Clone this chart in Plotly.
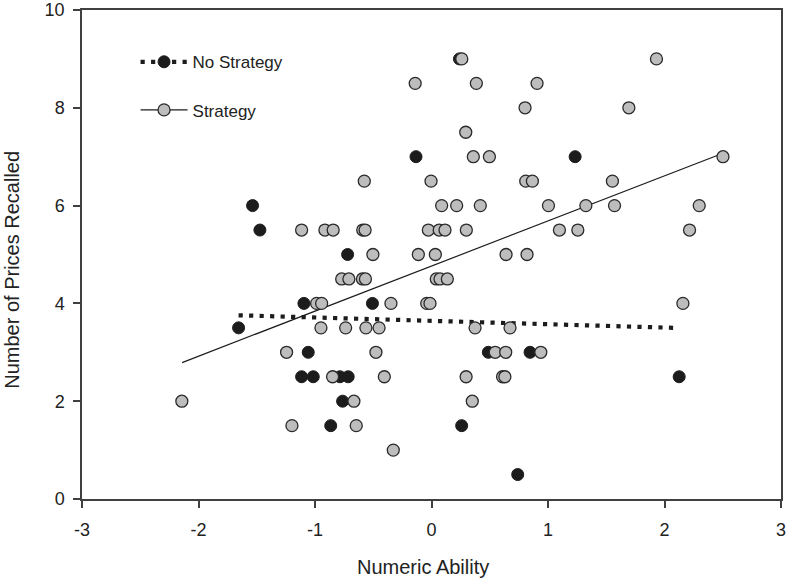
import plotly.graph_objects as go

# No Strategy group (black)
ns_x = [-1.536, -1.473, -1.656, -1.095, -1.058, -1.115, -1.015, -0.786, -0.715, -0.763,
        -0.865, -0.720, -0.507, -0.133, 0.259, 0.740, 0.488, 0.846, 1.233, 2.126, 0.240]
ns_y = [6, 5.5, 3.5, 4, 3, 2.5, 2.5, 2.5, 2.5, 2,
        1.5, 5, 4, 7, 1.5, 0.5, 3, 3, 7, 2.5, 9]

# Strategy group (grey)
st_x = [0.260, 1.931,
        -0.140, 0.385, 0.906,
        0.803, 1.694,
        0.294,
        0.359, 0.497, 2.502,
        -0.577, -0.004, 0.809, 0.866, 1.553,
        0.087, 0.216, 0.419, 1.004, 1.325, 1.571, 2.298,
        -1.115, -0.915, -0.844, -0.590, -0.570, -0.027, 0.066, 0.116, 0.299, 1.098, 1.256, 2.215,
        -0.503, -0.113, 0.033, 0.640, 0.820,
        -0.771, -0.709, -0.593, -0.567, 0.041, 0.073, 0.136,
        -0.986, -0.943, -0.348, -0.041, -0.013, 2.158,
        -0.949, -0.737, -0.563, -0.450, 0.374, 0.674,
        -1.244, -0.477, 0.547, 0.637, 0.938,
        -0.849, -0.405, 0.297, 0.610, 0.630,
        -2.143, -0.666, 0.350,
        -1.198, -0.646,
        -0.328]
st_y = [9, 9,
        8.5, 8.5, 8.5,
        8, 8,
        7.5,
        7, 7, 7,
        6.5, 6.5, 6.5, 6.5, 6.5,
        6, 6, 6, 6, 6, 6, 6,
        5.5, 5.5, 5.5, 5.5, 5.5, 5.5, 5.5, 5.5, 5.5, 5.5, 5.5, 5.5,
        5, 5, 5, 5, 5,
        4.5, 4.5, 4.5, 4.5, 4.5, 4.5, 4.5,
        4, 4, 4, 4, 4, 4,
        3.5, 3.5, 3.5, 3.5, 3.5, 3.5,
        3, 3, 3, 3, 3,
        2.5, 2.5, 2.5, 2.5, 2.5,
        2, 2, 2,
        1.5, 1.5,
        1]

# Fitted regression lines
ns_fit_x = [-1.656, 2.126]
ns_fit_y = [3.757, 3.497]
st_fit_x = [-2.141, 2.502]
st_fit_y = [2.79, 7.07]

x_ticks = [-3, -2, -1, 0, 1, 2, 3]
y_ticks = [0, 2, 4, 6, 8, 10]

FONT = "Liberation Sans, Arial, sans-serif"
BLACK = "#1c1c1c"
GREY = "#bdbdbd"
EDGE = "#2a2a2a"
DOT = dict(color=BLACK, width=4.2, dash="4.2px,6.3px")

fig = go.Figure()

# lines (drawn first, under points)
fig.add_trace(go.Scatter(x=ns_fit_x, y=ns_fit_y, mode="lines", line=DOT,
                         showlegend=False, hoverinfo="skip"))
fig.add_trace(go.Scatter(x=st_fit_x, y=st_fit_y, mode="lines",
                         line=dict(color=BLACK, width=1.2),
                         showlegend=False, hoverinfo="skip"))

# points
fig.add_trace(go.Scatter(x=ns_x, y=ns_y, mode="markers", showlegend=False,
                         marker=dict(size=12, color=BLACK, line=dict(color=BLACK, width=1))))
fig.add_trace(go.Scatter(x=st_x, y=st_y, mode="markers", showlegend=False,
                         marker=dict(size=12, color=GREY, line=dict(color=EDGE, width=1.3))))

# legend entries
fig.add_trace(go.Scatter(x=[None], y=[None], mode="lines+markers", name="No Strategy",
                         legendgroup="a", line=DOT,
                         marker=dict(size=12, color=BLACK, line=dict(color=BLACK, width=1))))
fig.add_trace(go.Scatter(x=[None], y=[None], mode="lines+markers", name="Strategy",
                         legendgroup="b",
                         line=dict(color=BLACK, width=1.2),
                         marker=dict(size=12, color=GREY, line=dict(color=EDGE, width=1.3))))

axis_common = dict(showgrid=False, zeroline=False, showline=True, mirror=True,
                   linecolor="#404040", linewidth=1.5, ticks="outside", ticklen=7,
                   tickwidth=1.5, tickcolor="#404040", automargin=False,
                   tickfont=dict(family=FONT, size=18, color="#222222"))

fig.update_xaxes(range=[-3, 3], tickvals=x_ticks, ticktext=[str(v) for v in x_ticks],
                 ticklabelstandoff=7, **axis_common)
fig.update_yaxes(range=[0, 10], tickvals=y_ticks, ticktext=[str(v) for v in y_ticks],
                 ticklabelstandoff=5, **axis_common)

fig.update_layout(
    width=789, height=584,
    margin=dict(l=82, r=8, t=10, b=85),
    plot_bgcolor="white", paper_bgcolor="white",
    font=dict(family=FONT, color="#222222"),
    legend=dict(x=0.0766, y=0.93, xanchor="left", yanchor="top",
                bgcolor="rgba(0,0,0,0)", font=dict(family=FONT, size=17, color="#222222"),
                itemwidth=47, tracegroupgap=23),
    annotations=[
        dict(text="Numeric Ability", xref="paper", yref="paper", x=0.488, y=-0.139,
             xanchor="center", yanchor="middle", showarrow=False,
             font=dict(family=FONT, size=20, color="#222222")),
        dict(text="Number of Prices Recalled", xref="paper", yref="paper", x=-0.1, y=0.469,
             xanchor="center", yanchor="middle", textangle=-90, showarrow=False,
             font=dict(family=FONT, size=20, color="#222222")),
    ],
)

fig.write_html("out.html", config={"displayModeBar": False},
               post_script="document.body.style.margin='0';document.body.style.overflow='hidden';")
